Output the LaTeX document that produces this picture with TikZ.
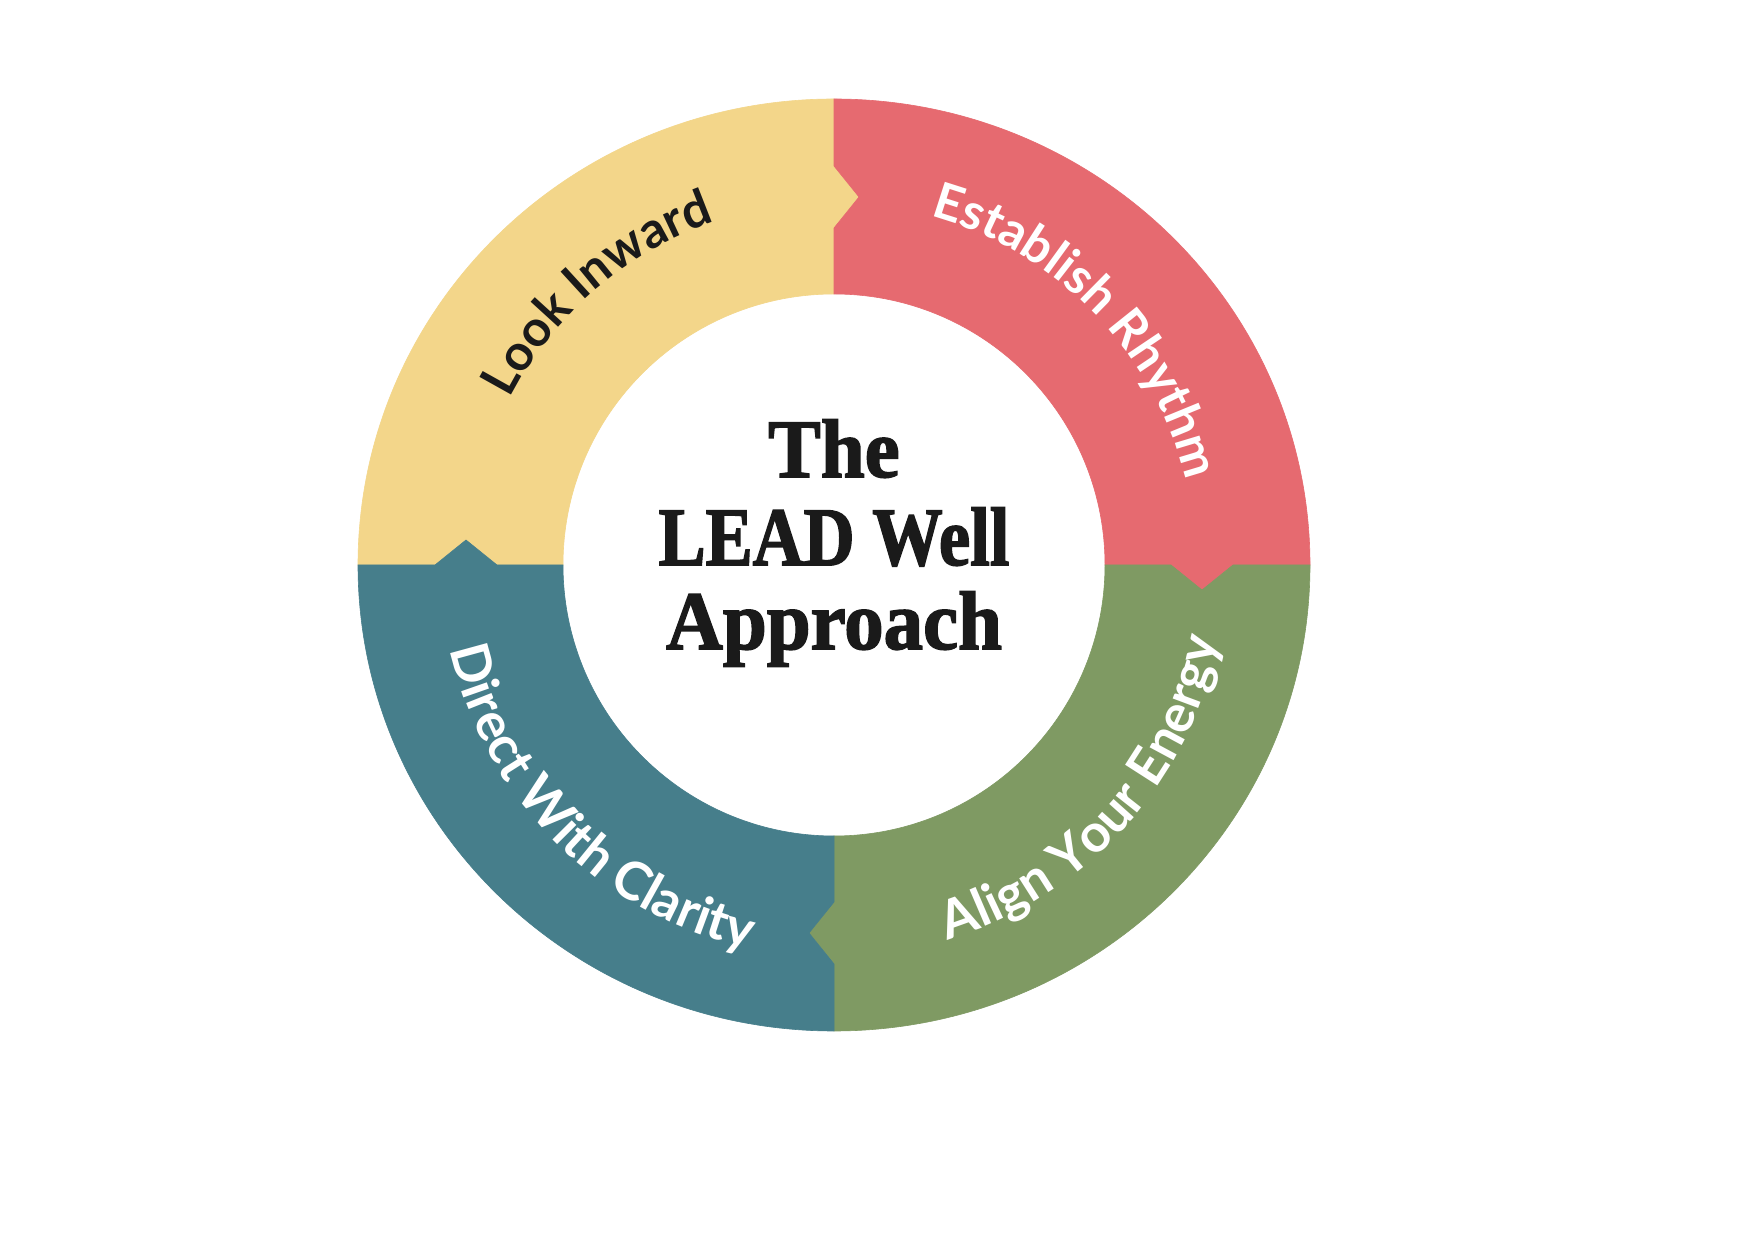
\documentclass[tikz,border=0pt]{standalone}
\usepackage{fontspec}
\usepackage{graphicx}
\usetikzlibrary{decorations.text}
\newfontfamily\latofont{Lato}
\newfontfamily\titlefont[FakeBold=2]{Liberation Serif Bold}
\definecolor{segyellow}{HTML}{F3D68A}
\definecolor{segred}{HTML}{E66A70}
\definecolor{seggreen}{HTML}{7F9A63}
\definecolor{segteal}{HTML}{467E8B}
\definecolor{inkdark}{HTML}{1A1A1A}
\newcommand\labfont{\fontsize{50}{50}\selectfont\latofont\bfseries}
\newcommand\labfontb{\fontsize{53}{53}\selectfont\latofont\bfseries}
\newcommand\ttlfont{\fontsize{83}{83}\selectfont\titlefont}
\tikzset{
  seg/.style={fill=#1, draw=#1, line width=0.6pt, line join=miter},
  labelw/.style={decorate, decoration={text along path, text align=center, text color=white, text={|\labfont|#1}}},
  labelwb/.style={decorate, decoration={text along path, text align=center, text color=white, text={|\labfontb|#1}}},
  labelk/.style={decorate, decoration={text along path, text align=center, text color=inkdark, text={|\labfont|#1}}},
  titletext/.style={anchor=base, inner sep=0pt, text=inkdark, font=\ttlfont}
}
\begin{document}
\begin{tikzpicture}[x=1pt,y=1pt]
\fill[white] (0,0) rectangle (1748,1240);
\useasboundingbox (0,0) rectangle (1748,1240);
\coordinate (C) at (834,675);
% yellow
\path[seg=segyellow] (834,1141) arc[start angle=90,end angle=180,x radius=476,y radius=466]
  -- (435,675) -- (466,700) -- (497,675) -- (563,675)
  arc[start angle=180,end angle=90,radius=271]
  -- (834,1012) -- (859,1043) -- (834,1074) -- cycle;
% red
\path[seg=segred] (834,1141) -- (834,1074) -- (859,1043) -- (834,1012) -- (834,946)
  arc[start angle=90,end angle=0,radius=271]
  -- (1171,675) -- (1202,650) -- (1233,675) -- (1310,675)
  arc[start angle=0,end angle=90,x radius=476,y radius=466] -- cycle;
% green
\path[seg=seggreen] (1310,675) -- (1233,675) -- (1202,650) -- (1171,675) -- (1105,675)
  arc[start angle=0,end angle=-90,radius=271]
  -- (834,338) -- (809,307) -- (834,276) -- (834,209)
  arc[start angle=-90,end angle=0,x radius=476,y radius=466] -- cycle;
% teal
\path[seg=segteal] (834,209) -- (834,276) -- (809,307) -- (834,338) -- (834,404)
  arc[start angle=-90,end angle=-180,radius=271]
  -- (497,675) -- (466,700) -- (435,675) -- (358,675)
  arc[start angle=180,end angle=270,x radius=476,y radius=466] -- cycle;
% labels
\path[labelk={Look Inward}] (C) ++(181:364) arc[start angle=181,end angle=81,radius=364];
\path[labelw={Establish Rhythm}] (C) ++(94:362) arc[start angle=94,end angle=-6,radius=362];
\path[labelwb={Align Your Energy}] (C) ++(-92:392) arc[start angle=-92,end angle=8,radius=392];
\path[labelwb={Direct With Clarity}] (C) ++(175:393) arc[start angle=175,end angle=275,radius=393];
% title
\node[titletext] (t1) at (834,763) {\scalebox{0.95}[1]{The}};
\node[titletext] (t2) at (834,675) {\scalebox{0.85}[1]{LEAD Well}};
\node[titletext] (t3) at (834,591) {\scalebox{0.95}[1]{Approach}};
\end{tikzpicture}
\end{document}
